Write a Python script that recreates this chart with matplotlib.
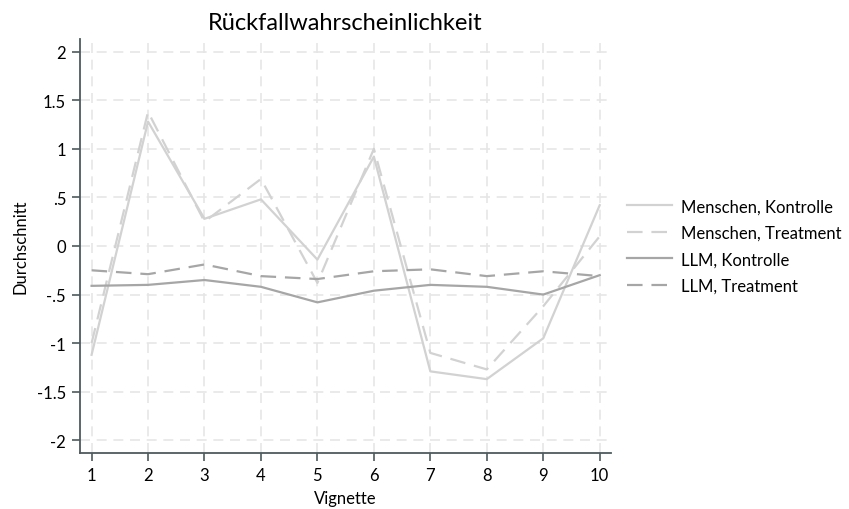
import matplotlib
matplotlib.use("Agg")
import matplotlib.pyplot as plt

vignettes = [1, 2, 3, 4, 5, 6, 7, 8, 9, 10]
menschen_kontrolle = [-1.12, 1.28, 0.28, 0.48, -0.14, 0.92, -1.29, -1.37, -0.95, 0.42]
menschen_treatment = [-1.00, 1.38, 0.25, 0.69, -0.38, 1.00, -1.10, -1.27, -0.62, 0.10]
llm_kontrolle = [-0.41, -0.40, -0.35, -0.42, -0.58, -0.46, -0.40, -0.42, -0.50, -0.30]
llm_treatment = [-0.25, -0.29, -0.19, -0.31, -0.34, -0.26, -0.24, -0.31, -0.26, -0.31]
yticks = [2, 1.5, 1, 0.5, 0, -0.5, -1, -1.5, -2]
yticklabels = ["2", "1.5", "1", ".5", "0", "-.5", "-1", "-1.5", "-2"]

plt.rcParams['font.family'] = ['Lato', 'DejaVu Sans']

fig = plt.figure(figsize=(8.49, 5.10), dpi=100)
ax = fig.add_axes([80/849, 1-454/510, (611-80)/849, (454-40)/510])

light = '#d2d2d2'
dark = '#a6a6a6'
ax.plot(vignettes, menschen_kontrolle, color=light, lw=1.6, ls='-', label='Menschen, Kontrolle')
ax.plot(vignettes, menschen_treatment, color=light, lw=1.6, ls=(0, (7, 4)), label='Menschen, Treatment')
ax.plot(vignettes, llm_kontrolle, color=dark, lw=1.6, ls='-', label='LLM, Kontrolle')
ax.plot(vignettes, llm_treatment, color=dark, lw=1.6, ls=(0, (7, 4)), label='LLM, Treatment')

ax.set_xlim(0.795, 10.2)
ax.set_ylim(-2.13, 2.13)
ax.set_xticks(vignettes)
ax.set_yticks(yticks)
ax.set_yticklabels(yticklabels)
ax.grid(True, color='#e6e6e6', ls=(0, (6, 4)), lw=1.2)
ax.set_axisbelow(True)
for s in ['top', 'right']:
    ax.spines[s].set_visible(False)
for s in ['left', 'bottom']:
    ax.spines[s].set_color('#4d5a5e')
    ax.spines[s].set_linewidth(1.3)
ax.tick_params(axis='both', direction='out', length=6, width=1.2, color='#4d5a5e',
               labelsize=12, pad=4)

ax.set_title('Rückfallwahrscheinlichkeit', fontsize=17, pad=7)
ax.set_xlabel('Vignette', fontsize=12, labelpad=5)
ax.set_ylabel('Durchschnitt', fontsize=12, labelpad=6)

leg = ax.legend(loc='center left', bbox_to_anchor=((627 - 80) / 531, 0.5), frameon=False,
                fontsize=12, handlelength=2.7, labelspacing=0.63, handletextpad=0.55,
                borderpad=0, borderaxespad=0)

fig.savefig('out.png', dpi=100)
